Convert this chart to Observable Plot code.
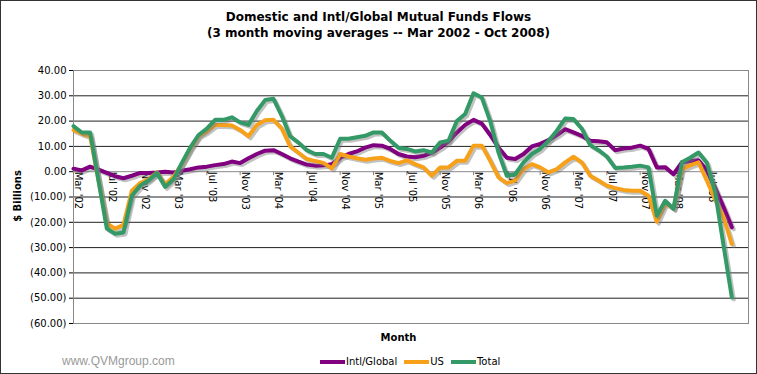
<!DOCTYPE html>
<html><head><meta charset="utf-8">
<script src="https://cdn.jsdelivr.net/npm/d3@7"></script>
<script src="https://cdn.jsdelivr.net/npm/@observablehq/plot@0.6"></script>
<style>
body{margin:0;background:#fff;font-family:"DejaVu Sans",Verdana,sans-serif;}
#wrap{position:relative;width:757px;height:374px;overflow:hidden;background:#fff;}
#border{position:absolute;left:0;top:0;right:0;bottom:0;border:1px solid #333;pointer-events:none;}
.title{position:absolute;left:0;width:757px;text-align:center;font-weight:bold;font-size:12px;line-height:15px;color:#000;}
#chart{position:absolute;left:0;top:40px;}
#ytitle{position:absolute;left:17px;top:196px;transform:translate(-50%,-50%) rotate(-90deg);font-weight:bold;font-size:10px;white-space:nowrap;}
#xtitle{position:absolute;left:0;width:797px;top:332px;text-align:center;font-weight:bold;font-size:10px;}
#legend{position:absolute;left:320px;top:356px;display:flex;align-items:center;font-size:10px;}
.sw{display:inline-block;width:25px;height:4px;margin-right:1px;}
.item{display:flex;align-items:center;margin-right:7px;}
#wm{position:absolute;left:62px;top:354px;font-family:"Liberation Sans",Arial,sans-serif;font-size:12px;color:#999;}
</style></head>
<body>
<div id="wrap">
  <div class="title" style="top:10px">Domestic and Intl/Global Mutual Funds Flows</div>
  <div class="title" style="top:26px">(3 month moving averages -- Mar 2002 - Oct 2008)</div>
  <div id="chart"></div>
  <div id="ytitle">$ Billions</div>
  <div id="xtitle">Month</div>
  <div id="wm">www.QVMgroup.com</div>
  <div id="legend"></div>
  <div id="border"></div>
</div>
<script>
// Monthly 3-month moving averages, Mar 2002 .. Oct 2008 ($ billions)
const intlGlobal = [1.2,0.5,2.0,0.8,-0.5,-1.8,-2.6,-1.6,-0.5,-0.5,-0.3,0,
  -0.3,0.4,1.0,1.7,2.0,2.6,3.0,4.0,3.4,5.3,7.0,8.3,
  8.5,7.0,5.3,4.0,2.8,2.4,2.5,3.0,5.5,7.0,8.0,9.5,
  10.5,10.3,9.0,7.0,6.0,5.7,6.3,7.5,9.5,12.0,15.5,18.5,
  20.5,19.0,14.5,9.5,5.5,5.0,7.0,10.0,11.0,12.5,14.5,16.8,
  15.5,14.2,12.2,12.0,11.6,8.5,9.2,9.5,10.3,9.0,1.7,1.8,
  -1.0,3.7,4.2,4.5,0.5,-6.5,-14.0,-22.0];
const us = [16.5,15.0,14.0,-3.5,-20.5,-22.5,-21.0,-7.5,-4.5,-3.0,-0.3,-5.0,
  -2.0,3.0,9.0,14.0,16.0,18.5,18.5,18.3,16.5,14.0,18.5,20.3,
  20.5,17.0,10.0,7.5,5.0,4.2,3.5,1.3,7.0,6.0,5.3,4.7,
  5.2,5.5,4.3,3.4,4.5,3.0,1.7,-1.6,1.7,1.7,4.3,4.3,
  10.3,10.3,4.3,-2.2,-4.5,-3.5,1.0,3.0,1.7,-0.3,1.0,3.7,
  5.9,3.7,-1.6,-3.5,-5.5,-6.5,-7.2,-7.5,-7.5,-9.5,-19.8,-12.5,
  -14.5,1.0,2.5,3.7,-3.5,-11.0,-18.0,-28.6];
const total = [18.0,15.5,15.5,-3.5,-22.5,-24.5,-24.0,-9.5,-5.5,-3.5,-0.5,-6.0,
  -3.0,3.5,9.5,14.5,17.0,20.5,20.5,21.5,19.5,18.5,24.0,28.3,
  28.8,22.0,14.0,11.5,8.5,7.0,7.0,5.5,13.0,13.0,13.6,14.2,
  15.5,15.5,12.3,9.5,9.0,8.0,8.5,7.6,11.6,12.2,20.0,22.8,
  31.0,29.3,20.0,7.6,-1.6,-1.0,3.7,7.0,9.0,12.2,16.2,21.0,
  20.8,17.0,10.5,8.5,6.0,1.5,1.7,2.0,2.4,1.7,-17.4,-11.5,
  -14.7,3.7,5.5,7.6,3.5,-8.0,-29.0,-49.7];
const tickLabels = ["Mar '02","Jul '02","Nov '02","Mar '03","Jul '03","Nov '03","Mar '04","Jul '04",
  "Nov '04","Mar '05","Jul '05","Nov '05","Mar '06","Jul '06","Nov '06","Mar '07","Jul '07","Nov '07","Mar '08","Jul '08"];
const seriesNames = ["Intl/Global","US","Total"];
const seriesColors = ["#800080","#F7A11A","#339966"];
const yTicks = [40,30,20,10,0,-10,-20,-30,-40,-50,-60];
const labelStep = 4;      // a label every 4 months
const categoryCount = 82; // category slots on the axis

const seriesValues = [intlGlobal, us, total];
const rows = seriesNames.flatMap((name, s) => seriesValues[s].map((v, i) => ({i, v, name})));
const tickIdx = tickLabels.map((_, k) => k * labelStep);
const fmt = v => v < 0 ? `(${(-v).toFixed(2)})` : v.toFixed(2);

const lineMarks = seriesNames.flatMap((name, s) => {
  const data = rows.filter(d => d.name === name);
  return [
    Plot.line(data, {x: "i", y: "v", stroke: "#777", strokeOpacity: 0.45, strokeWidth: 4, dx: 2, dy: 2, strokeLinejoin: "round"}),
    Plot.line(data, {x: "i", y: "v", stroke: seriesColors[s], strokeWidth: 4, strokeLinejoin: "round"})
  ];
});

const chart = Plot.plot({
  width: 757, height: 300,
  marginTop: 30, marginBottom: 17, marginLeft: 73, marginRight: 9,
  style: {fontFamily: "DejaVu Sans, Verdana, sans-serif", fontSize: "10px", color: "#000", background: "transparent", overflow: "visible"},
  x: {domain: [0, categoryCount - 1], axis: null},
  y: {domain: [-60, 40], ticks: yTicks, tickFormat: fmt, tickSize: 4, tickPadding: 3, label: null},
  marks: [
    Plot.ruleY(yTicks.filter(t => t > -60 && t < 40 && t !== 0), {stroke: "#222", strokeWidth: 1}),
    Plot.frame({stroke: "#888"}),
    Plot.ruleY([0], {stroke: "#888"}),
    Plot.ruleX(tickIdx, {x: d => d, y1: () => 0, y2: () => 0, insetBottom: -4, stroke: "#888"}),
    Plot.text(tickIdx, {x: d => d, y: () => 0, text: (d, k) => tickLabels[k], rotate: 90, textAnchor: "start", lineAnchor: "middle", dx: 5, fontSize: 10, fill: "#000"}),
    ...lineMarks
  ]
});
document.getElementById("chart").appendChild(chart);

const legend = document.getElementById("legend");
seriesNames.forEach((name, s) => {
  const it = document.createElement("div");
  it.className = "item";
  it.innerHTML = `<span class="sw" style="background:${seriesColors[s]}"></span><span>${name}</span>`;
  legend.appendChild(it);
});
</script>
</body></html>
